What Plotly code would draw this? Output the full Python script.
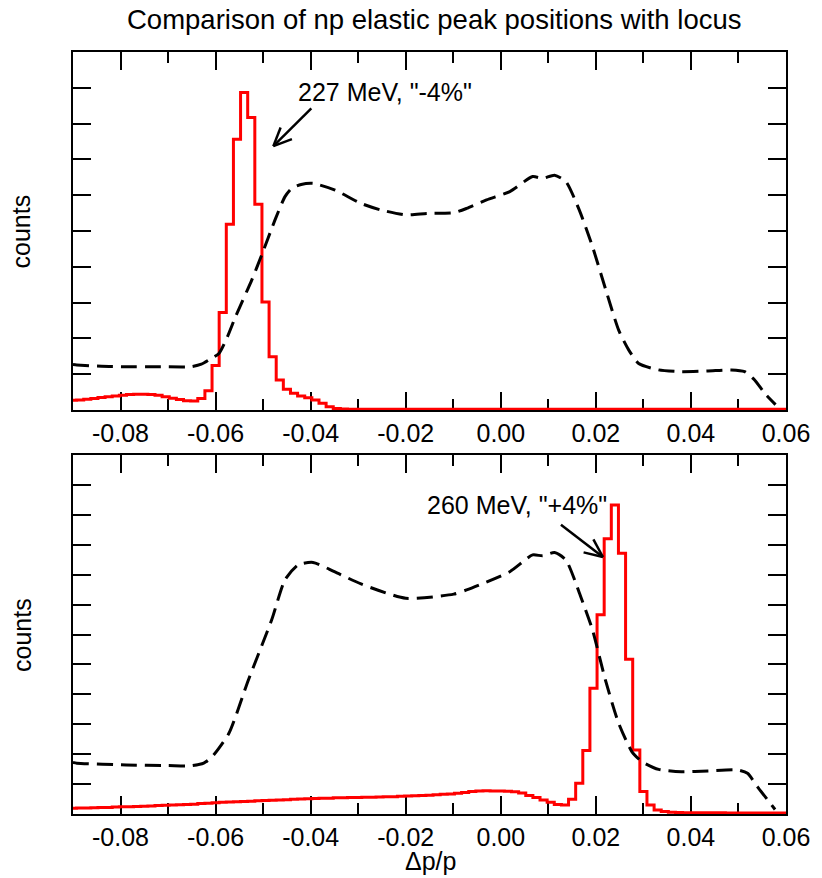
import numpy as np
import plotly.graph_objects as go

# ---------------- data ----------------
# histogram bin centres (100 bins of width 0.0015 across the axis)
bin_centers = np.round(-0.09 + 0.0015 * np.arange(101), 5)

# top panel: 227 MeV elastic peak ("-4%")
counts_227 = [
    0.27, 0.28, 0.30, 0.32, 0.35, 0.37, 0.39, 0.41, 0.43, 0.44,
    0.44, 0.43, 0.41, 0.37, 0.33, 0.29, 0.26, 0.25, 0.32, 0.54,
    1.24, 2.72, 5.19, 7.56, 8.87, 8.17, 5.75, 3.02, 1.49, 0.84,
    0.58, 0.47, 0.39, 0.34, 0.28, 0.19, 0.09, 0.04, 0.03, 0.02,
    0.02, 0.02, 0.02, 0.02, 0.02, 0.02, 0.02, 0.02, 0.02, 0.02,
    0.02, 0.02, 0.02, 0.02, 0.02, 0.02, 0.02, 0.02, 0.02, 0.02,
    0.02, 0.02, 0.02, 0.02, 0.02, 0.02, 0.02, 0.02, 0.02, 0.02,
    0.02, 0.02, 0.02, 0.02, 0.02, 0.02, 0.02, 0.02, 0.02, 0.02,
    0.02, 0.02, 0.02, 0.02, 0.02, 0.02, 0.02, 0.02, 0.02, 0.02,
    0.02, 0.02, 0.02, 0.02, 0.02, 0.02, 0.02, 0.02, 0.02, 0.02,
    0.02,
]

# bottom panel: 260 MeV elastic peak ("+4%")
counts_260 = [
    0.19, 0.20, 0.20, 0.21, 0.22, 0.22, 0.23, 0.24, 0.24, 0.25,
    0.26, 0.27, 0.28, 0.29, 0.30, 0.31, 0.32, 0.33, 0.35, 0.36,
    0.38, 0.39, 0.40, 0.41, 0.42, 0.43, 0.44, 0.45, 0.46, 0.47,
    0.48, 0.49, 0.50, 0.51, 0.52, 0.53, 0.53, 0.54, 0.54, 0.55,
    0.55, 0.56, 0.56, 0.57, 0.58, 0.58, 0.59, 0.60, 0.61, 0.62,
    0.63, 0.64, 0.66, 0.67, 0.69, 0.72, 0.75, 0.77, 0.78, 0.77,
    0.77, 0.76, 0.74, 0.70, 0.62, 0.55, 0.47, 0.39, 0.32, 0.30,
    0.49, 1.03, 2.12, 4.20, 6.66, 9.20, 10.33, 8.72, 5.17, 2.14,
    0.75, 0.30, 0.13, 0.08, 0.06, 0.05, 0.04, 0.04, 0.04, 0.04,
    0.04, 0.04, 0.03, 0.03, 0.03, 0.03, 0.03, 0.03, 0.03, 0.03,
    0.03,
]

# locus (dashed) in top panel
locus_top_x = [
    -0.0900, -0.0892, -0.0840, -0.0788, -0.0720, -0.0652, -0.0630, -0.0614,
    -0.0593, -0.0575, -0.0558, -0.0524, -0.0503, -0.0475, -0.0454, -0.0440,
    -0.0420, -0.0395, -0.0350, -0.0294, -0.0253, -0.0200, -0.0155, -0.0099,
    -0.0072, -0.0030, 0.0019, 0.0067, 0.0088, 0.0113, 0.0137, 0.0165,
    0.0193, 0.0221, 0.0248, 0.0269, 0.0290, 0.0332, 0.0380, 0.0436,
    0.0485, 0.0513, 0.0534, 0.0555, 0.0578,
]
locus_top_y = [
    1.27, 1.26, 1.22, 1.21, 1.21, 1.21, 1.28, 1.40,
    1.58, 2.05, 2.61, 3.63, 4.33, 5.31, 5.96, 6.19,
    6.30, 6.33, 6.15, 5.77, 5.59, 5.45, 5.49, 5.51,
    5.63, 5.87, 6.10, 6.52, 6.47, 6.56, 6.38, 5.59,
    4.56, 3.35, 2.23, 1.68, 1.30, 1.12, 1.07, 1.09,
    1.12, 1.07, 0.84, 0.47, 0.15,
]

# locus (dashed) in bottom panel
locus_bot_x = [
    -0.0900, -0.0892, -0.0788, -0.0700, -0.0652, -0.0625, -0.0607, -0.0572,
    -0.0531, -0.0482, -0.0454, -0.0426, -0.0395, -0.0350, -0.0294, -0.0200,
    -0.0099, -0.0072, 0.0019, 0.0067, 0.0088, 0.0113, 0.0137, 0.0168,
    0.0193, 0.0220, 0.0248, 0.0276, 0.0297, 0.0332, 0.0380, 0.0436,
    0.0498, 0.0519, 0.0540, 0.0577,
]
locus_bot_y = [
    1.72, 1.70, 1.64, 1.62, 1.61, 1.70, 1.92, 2.70,
    4.48, 6.49, 7.83, 8.33, 8.41, 8.10, 7.69, 7.21,
    7.35, 7.49, 8.10, 8.66, 8.63, 8.74, 8.49, 7.27,
    6.15, 4.48, 3.03, 2.08, 1.75, 1.49, 1.41, 1.44,
    1.47, 1.36, 0.91, 0.15,
]

x_tickvals = [-0.08, -0.06, -0.04, -0.02, 0.00, 0.02, 0.04, 0.06]
x_ticktext = ["-0.08", "-0.06", "-0.04", "-0.02", "0.00", "0.02", "0.04", "0.06"]

title_text = "Comparison of np elastic peak positions with locus"
label_227 = "227 MeV, \"-4%\""
label_260 = "260 MeV, \"+4%\""
y_label = "counts"
x_label = "\u0394p/p"

# ---------------- layout geometry ----------------
W, H = 822, 878
ML, MR, MT, MB = 73, 30, 52, 64
X_RANGE = [-0.09, 0.06]
Y1_RANGE = [0, 10]
Y2_RANGE = [0, 12]
TOP_PX = (52, 410)      # panel top / bottom rows in px
BOT_PX = (455, 814)

PLOT_W = W - ML - MR
PLOT_H = H - MT - MB


def paper_x(px):
    return (px - ML) / PLOT_W


def paper_y(py):
    return (H - MB - py) / PLOT_H


dom_top = [paper_y(TOP_PX[1]), 1.0]
dom_bot = [0.0, paper_y(BOT_PX[0])]

FONT = "Liberation Sans, Arial, Helvetica, sans-serif"

fig = go.Figure()

red = dict(color="#ff0000", width=3, shape="hvh")
dash = dict(color="black", width=3, dash="16px,8px", shape="spline", smoothing=0.6)

fig.add_trace(go.Scatter(x=bin_centers, y=counts_227, mode="lines", line=red,
                         xaxis="x", yaxis="y", hoverinfo="skip"))
fig.add_trace(go.Scatter(x=locus_top_x, y=locus_top_y, mode="lines", line=dash,
                         xaxis="x", yaxis="y", hoverinfo="skip"))
fig.add_trace(go.Scatter(x=bin_centers, y=counts_260, mode="lines", line=red,
                         xaxis="x2", yaxis="y2", hoverinfo="skip"))
fig.add_trace(go.Scatter(x=locus_bot_x, y=locus_bot_y, mode="lines", line=dash,
                         xaxis="x2", yaxis="y2", hoverinfo="skip"))

xaxis_common = dict(
    range=X_RANGE, showgrid=False, zeroline=False,
    showline=True, linecolor="black", linewidth=2, mirror="ticks",
    ticks="inside", ticklen=18, tickwidth=1.5, tickcolor="black",
    tickvals=x_tickvals, ticktext=x_ticktext,
    tickfont=dict(family=FONT, size=25, color="black"),
    minor=dict(dtick=0.01, tick0=0, ticks="inside", ticklen=11,
               tickwidth=1.5, tickcolor="black", showgrid=False),
    layer="below traces",
)
yaxis_common = dict(
    showgrid=False, zeroline=False, showticklabels=False,
    showline=True, linecolor="black", linewidth=2, mirror="ticks",
    ticks="inside", ticklen=18, tickwidth=1.5, tickcolor="black",
    dtick=1, tick0=0, layer="below traces",
)

fig.update_layout(
    width=W, height=H,
    margin=dict(l=ML, r=MR, t=MT, b=MB, pad=0),
    paper_bgcolor="white", plot_bgcolor="white",
    showlegend=False,
    font=dict(family=FONT, size=25, color="black"),
    xaxis=dict(xaxis_common, anchor="y"),
    yaxis=dict(yaxis_common, range=Y1_RANGE, domain=dom_top, anchor="x"),
    xaxis2=dict(xaxis_common, anchor="y2"),
    yaxis2=dict(yaxis_common, range=Y2_RANGE, domain=dom_bot, anchor="x2"),
)

# pixel scales of the axes
x_scale = PLOT_W / (X_RANGE[1] - X_RANGE[0])
y1_scale = (TOP_PX[1] - TOP_PX[0]) / (Y1_RANGE[1] - Y1_RANGE[0])
y2_scale = (BOT_PX[1] - BOT_PX[0]) / (Y2_RANGE[1] - Y2_RANGE[0])


def add_open_arrow(tip_x, tip_y, dx_px, dy_px, ys, xref, yref,
                   head_len=20, head_ang=24, width=2.5):
    """Arrow whose tail lies dx_px, dy_px (screen px) away from tip."""
    def to_data(px, py):
        return tip_x + px / x_scale, tip_y - py / ys
    tx, ty = to_data(dx_px, dy_px)
    line = dict(color="black", width=width)
    fig.add_shape(type="line", xref=xref, yref=yref, x0=tip_x, y0=tip_y,
                  x1=tx, y1=ty, line=line)
    ang = np.arctan2(dy_px, dx_px)
    for s in (-1, 1):
        a = ang + s * np.radians(head_ang)
        hx, hy = to_data(head_len * np.cos(a), head_len * np.sin(a))
        fig.add_shape(type="line", xref=xref, yref=yref, x0=tip_x, y0=tip_y,
                      x1=hx, y1=hy, line=line)


add_open_arrow(-0.04785, 7.37, 38.3, -37.7, y1_scale, "x", "y")
add_open_arrow(0.02148, 8.59, -42.3, -32.3, y2_scale, "x2", "y2")

ann_font = dict(family=FONT, size=25, color="black")
fig.add_annotation(x=-0.0430, y=8.87, xref="x", yref="y", text=label_227,
                   showarrow=False, xanchor="left", yanchor="middle", font=ann_font)
fig.add_annotation(x=-0.01587, y=10.33, xref="x2", yref="y2", text=label_260,
                   showarrow=False, xanchor="left", yanchor="middle", font=ann_font)

fig.add_annotation(x=paper_x(437.5), y=paper_y(19), xref="paper", yref="paper",
                   text=title_text, showarrow=False, xanchor="center", yanchor="middle",
                   font=dict(family=FONT, size=27.5, color="black"))
fig.add_annotation(x=paper_x(21), y=paper_y(231), xref="paper", yref="paper",
                   text=y_label, showarrow=False, textangle=-90,
                   xanchor="center", yanchor="middle", font=ann_font)
fig.add_annotation(x=paper_x(21), y=paper_y(634.5), xref="paper", yref="paper",
                   text=y_label, showarrow=False, textangle=-90,
                   xanchor="center", yanchor="middle", font=ann_font)
fig.add_annotation(x=paper_x(434), y=paper_y(861), xref="paper", yref="paper",
                   text=x_label, showarrow=False, xanchor="center", yanchor="middle",
                   font=ann_font)

fig.write_html(
    "out.html",
    config={"displayModeBar": False},
    post_script="document.body.style.margin='0px';document.body.style.padding='0px';",
)
